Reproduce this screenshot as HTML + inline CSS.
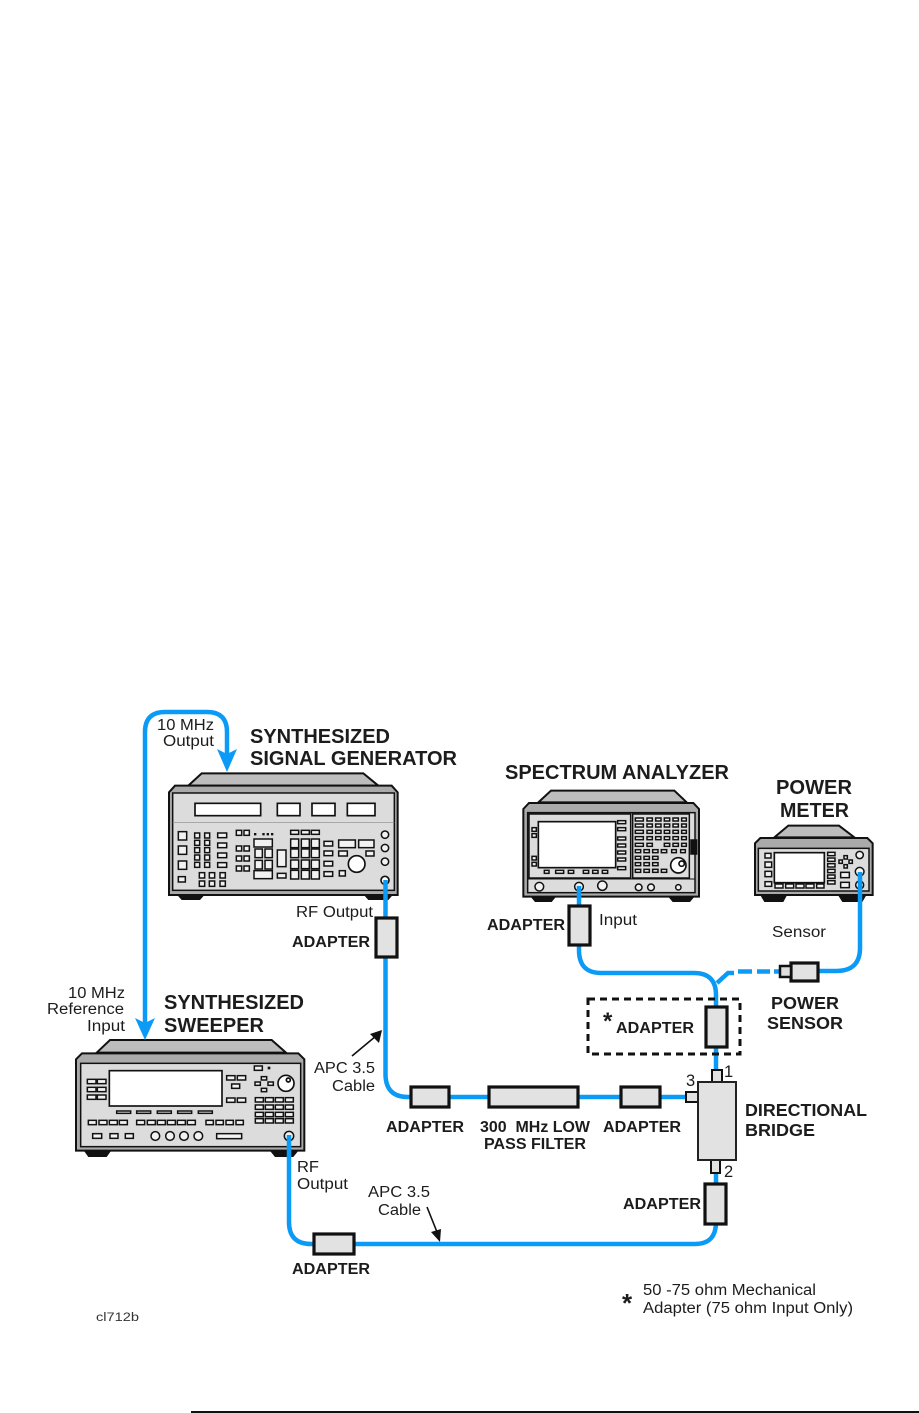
<!DOCTYPE html>
<html><head><meta charset="utf-8"><style>
html,body{margin:0;padding:0;background:#fff}
svg{display:block}
text{font-family:"Liberation Sans",sans-serif;fill:#1c1c1c;font-size:15.5px}
.t{font-weight:bold;font-size:20px}
.a{font-weight:bold;font-size:16px}
.c{fill:none;stroke:#0b9bf7;stroke-width:4.5}
.d{stroke:#111;stroke-width:3.2;fill:#e2e2e2}
.i rect,.i circle{fill:#f2f2f2;stroke:#111;stroke-width:4.5}
.i .w{fill:#fff;stroke-width:5}
.i .g{fill:#dcdcdc}
.o{fill:#dedede;stroke:#111;stroke-width:5}
.k{fill:#111;stroke:none}
.tp{fill:#bdbdbd;stroke:#111;stroke-width:6}
.bd{fill:#aaa;stroke:#111;stroke-width:6}
</style></head><body>
<svg width="919" height="1413" viewBox="0 0 919 1413" xmlns="http://www.w3.org/2000/svg">
<rect width="919" height="1413" fill="#fff"/>

<!-- Signal generator -->
<g class="i" transform="translate(160,765) scale(.33333)">
<path class="k" d="M50 388H135L120 405H65ZM610 388H700L685 405H625Z"/>
<path class="tp" d="M85 62L125 25H610L655 62Z"/>
<path class="bd" d="M27 82L45 62H695L713 82V390H27Z"/>
<rect class="g" x="38" y="84" width="665" height="292"/>
<path d="M38 172H703" stroke="#888" stroke-width="2"/>
<rect class="w" x="105" y="115" width="197" height="37"/>
<rect class="w" x="352" y="115" width="68" height="37"/>
<rect class="w" x="456" y="115" width="69" height="37"/>
<rect class="w" x="562" y="115" width="83" height="37"/>
<rect x="55" y="200" width="25" height="25"/><rect x="55" y="243" width="25" height="25"/><rect x="55" y="288" width="25" height="25"/><rect x="55" y="335" width="21" height="16"/>
<rect x="104" y="204" width="15" height="15"/><rect x="134" y="204" width="15" height="15"/><rect x="104" y="226" width="15" height="15"/><rect x="134" y="226" width="15" height="15"/><rect x="104" y="248" width="15" height="15"/><rect x="134" y="248" width="15" height="15"/><rect x="104" y="270" width="15" height="15"/><rect x="134" y="270" width="15" height="15"/><rect x="104" y="292" width="15" height="15"/><rect x="134" y="292" width="15" height="15"/>
<rect x="173" y="204" width="27" height="14"/><rect x="173" y="234" width="27" height="14"/><rect x="173" y="264" width="27" height="14"/><rect x="173" y="293" width="27" height="14"/>
<rect x="118" y="323" width="16" height="16"/><rect x="148" y="323" width="16" height="16"/><rect x="180" y="323" width="16" height="16"/><rect x="118" y="348" width="16" height="16"/><rect x="148" y="348" width="16" height="16"/><rect x="180" y="348" width="16" height="16"/>
<rect x="229" y="196" width="16" height="15"/><rect x="252" y="196" width="16" height="15"/><rect x="229" y="243" width="16" height="15"/><rect x="252" y="243" width="16" height="15"/><rect x="229" y="273" width="16" height="15"/><rect x="252" y="273" width="16" height="15"/><rect x="229" y="303" width="16" height="15"/><rect x="252" y="303" width="16" height="15"/>
<path class="k" d="M282 204h7v7h-7zM307 204h7v7h-7zM320 204h7v7h-7zM333 204h7v7h-7z"/>
<rect x="282" y="222" width="55" height="24"/><rect x="285" y="252" width="22" height="26"/><rect x="315" y="252" width="22" height="26"/><rect x="285" y="286" width="22" height="26"/><rect x="315" y="286" width="22" height="26"/><rect x="282" y="317" width="55" height="24"/>
<rect x="352" y="255" width="26" height="50"/><rect x="352" y="325" width="26" height="14"/>
<rect x="392" y="196" width="24" height="12"/><rect x="424" y="196" width="24" height="12"/><rect x="454" y="196" width="24" height="12"/>
<rect x="392" y="222" width="24" height="26"/><rect x="424" y="222" width="24" height="26"/><rect x="454" y="222" width="24" height="26"/>
<rect x="392" y="252" width="24" height="26"/><rect x="424" y="252" width="24" height="26"/><rect x="454" y="252" width="24" height="26"/>
<rect x="392" y="285" width="24" height="26"/><rect x="424" y="285" width="24" height="26"/><rect x="454" y="285" width="24" height="26"/>
<rect x="392" y="316" width="24" height="26"/><rect x="424" y="316" width="24" height="26"/><rect x="454" y="316" width="24" height="26"/>
<rect x="492" y="229" width="26" height="14"/><rect x="492" y="258" width="26" height="14"/><rect x="492" y="289" width="26" height="14"/><rect x="492" y="320" width="26" height="14"/>
<rect x="536" y="225" width="50" height="23"/><rect x="596" y="225" width="46" height="23"/><rect x="536" y="258" width="26" height="15"/><rect x="618" y="258" width="24" height="15"/>
<circle class="w" cx="590" cy="297" r="25"/><rect x="538" y="317" width="18" height="16"/>
<circle cx="675" cy="209" r="11"/><circle cx="675" cy="249" r="11"/><circle cx="675" cy="290" r="11"/><circle class="w" cx="675" cy="346" r="12"/>
</g>

<!-- Sweeper -->
<g class="i" transform="translate(70,1030) scale(.33333)">
<path class="k" d="M40 360H125L110 381H55ZM598 360H687L670 381H615Z"/>
<path class="tp" d="M80 68L120 30H605L648 68Z"/>
<path class="bd" d="M18 88L36 70H685L703 88V362H18Z"/>
<rect class="g" x="32" y="100" width="660" height="250"/>
<rect class="w" x="118" y="122" width="338" height="106"/>
<rect x="52" y="148" width="26" height="13"/><rect x="82" y="148" width="26" height="13"/><rect x="52" y="172" width="26" height="13"/><rect x="82" y="172" width="26" height="13"/><rect x="52" y="195" width="26" height="13"/><rect x="82" y="195" width="26" height="13"/>
<rect x="470" y="137" width="25" height="13"/><rect x="502" y="137" width="25" height="13"/><rect x="485" y="162" width="24" height="13"/><rect x="470" y="204" width="25" height="13"/><rect x="502" y="204" width="25" height="13"/>
<rect x="140" y="243" width="42" height="7"/><rect x="200" y="243" width="42" height="7"/><rect x="262" y="243" width="42" height="7"/><rect x="323" y="243" width="42" height="7"/><rect x="385" y="243" width="42" height="7"/>
<rect x="55" y="271" width="24" height="13"/><rect x="87" y="271" width="24" height="13"/><rect x="118" y="271" width="24" height="13"/><rect x="148" y="271" width="24" height="13"/>
<rect x="200" y="271" width="24" height="13"/><rect x="232" y="271" width="24" height="13"/><rect x="262" y="271" width="24" height="13"/><rect x="292" y="271" width="24" height="13"/><rect x="322" y="271" width="24" height="13"/><rect x="352" y="271" width="24" height="13"/>
<rect x="408" y="271" width="22" height="13"/><rect x="438" y="271" width="22" height="13"/><rect x="468" y="271" width="22" height="13"/><rect x="498" y="271" width="22" height="13"/>
<rect x="68" y="311" width="27" height="14"/><rect x="120" y="311" width="24" height="14"/><rect x="166" y="311" width="24" height="14"/>
<circle cx="256" cy="318" r="13"/><circle cx="300" cy="318" r="13"/><circle cx="342" cy="318" r="13"/><circle cx="385" cy="318" r="13"/>
<rect x="440" y="311" width="75" height="15"/>
<rect x="553" y="108" width="24" height="13"/><path class="k" d="M593 110h8v8h-8z"/>
<rect x="574" y="140" width="16" height="10"/><rect x="555" y="156" width="16" height="10"/><rect x="594" y="156" width="16" height="10"/><rect x="574" y="175" width="16" height="10"/>
<circle class="w" cx="648" cy="160" r="24"/><circle class="w" cx="655" cy="150" r="6"/>
<rect x="556" y="203" width="24" height="13"/><rect x="586" y="203" width="24" height="13"/><rect x="616" y="203" width="24" height="13"/><rect x="646" y="203" width="24" height="13"/>
<rect x="556" y="225" width="24" height="13"/><rect x="586" y="225" width="24" height="13"/><rect x="616" y="225" width="24" height="13"/><rect x="646" y="225" width="24" height="13"/>
<rect x="556" y="247" width="24" height="13"/><rect x="586" y="247" width="24" height="13"/><rect x="616" y="247" width="24" height="13"/><rect x="646" y="247" width="24" height="13"/>
<rect x="556" y="266" width="24" height="13"/><rect x="586" y="266" width="24" height="13"/><rect x="616" y="266" width="24" height="13"/><rect x="646" y="266" width="24" height="13"/>
<circle cx="657" cy="318" r="14"/>
</g>

<!-- Spectrum analyzer -->
<g class="i" transform="translate(515,785) scale(.33333)">
<path class="k" d="M45 333H125L110 351H60ZM458 333H540L525 351H473Z"/>
<path class="tp" d="M70 52L108 17H478L515 52Z"/>
<path class="bd" d="M25 72L42 54H535L552 72V335H25Z"/>
<rect class="g" x="38" y="83" width="502" height="240"/>
<rect class="g" x="42" y="87" width="305" height="192"/>
<rect class="g" x="353" y="87" width="170" height="192"/>
<path d="M38 282H540" stroke="#111" stroke-width="3"/>
<rect class="w" x="70" y="110" width="232" height="138"/>
<rect x="51" y="128" width="13" height="11"/><rect x="51" y="146" width="13" height="11"/><rect x="51" y="214" width="13" height="11"/><rect x="51" y="232" width="13" height="11"/>
<rect x="308" y="107" width="24" height="9"/><rect x="308" y="128" width="24" height="9"/><rect x="308" y="156" width="24" height="9"/><rect x="308" y="177" width="24" height="9"/><rect x="308" y="198" width="24" height="9"/><rect x="308" y="219" width="24" height="9"/><rect x="308" y="245" width="24" height="9"/>
<rect x="88" y="256" width="14" height="9"/><rect x="122" y="256" width="24" height="9"/><rect x="160" y="256" width="16" height="9"/><rect x="205" y="256" width="16" height="9"/><rect x="233" y="256" width="16" height="9"/><rect x="262" y="256" width="16" height="9"/>
<rect x="361" y="99" width="24" height="9"/><rect x="396" y="99" width="16" height="9"/><rect x="422" y="99" width="16" height="9"/><rect x="448" y="99" width="16" height="9"/><rect x="474" y="99" width="16" height="9"/><rect x="500" y="99" width="14" height="9"/>
<rect x="361" y="117" width="24" height="9"/><rect x="396" y="117" width="16" height="9"/><rect x="422" y="117" width="16" height="9"/><rect x="448" y="117" width="16" height="9"/><rect x="474" y="117" width="16" height="9"/><rect x="500" y="117" width="14" height="9"/>
<rect x="361" y="136" width="24" height="9"/><rect x="396" y="136" width="16" height="9"/><rect x="422" y="136" width="16" height="9"/><rect x="448" y="136" width="16" height="9"/><rect x="474" y="136" width="16" height="9"/><rect x="500" y="136" width="14" height="9"/>
<rect x="361" y="155" width="24" height="9"/><rect x="396" y="155" width="16" height="9"/><rect x="422" y="155" width="16" height="9"/><rect x="448" y="155" width="16" height="9"/><rect x="474" y="155" width="16" height="9"/><rect x="500" y="155" width="14" height="9"/>
<rect x="361" y="175" width="24" height="9"/><rect x="396" y="175" width="16" height="9"/><rect x="448" y="175" width="16" height="9"/><rect x="474" y="175" width="16" height="9"/><rect x="500" y="175" width="14" height="9"/>
<rect x="361" y="194" width="16" height="9"/><rect x="387" y="194" width="16" height="9"/><rect x="413" y="194" width="16" height="9"/><rect x="439" y="194" width="16" height="9"/><rect x="470" y="194" width="14" height="9"/><rect x="497" y="194" width="14" height="9"/>
<rect x="361" y="214" width="16" height="9"/><rect x="387" y="214" width="16" height="9"/><rect x="413" y="214" width="16" height="9"/>
<rect x="361" y="233" width="16" height="9"/><rect x="387" y="233" width="16" height="9"/><rect x="413" y="233" width="16" height="9"/>
<rect x="361" y="253" width="16" height="9"/><rect x="387" y="253" width="16" height="9"/><rect x="413" y="253" width="16" height="9"/><rect x="439" y="253" width="16" height="9"/>
<circle class="w" cx="490" cy="241" r="23"/><circle class="w" cx="500" cy="236" r="8"/>
<rect class="k" x="528" y="165" width="17" height="42" style="fill:#111"/>
<circle cx="73" cy="305" r="13"/><circle cx="192" cy="305" r="13"/><circle cx="262" cy="302" r="14"/><circle cx="371" cy="307" r="10"/><circle cx="408" cy="307" r="10"/><circle cx="490" cy="307" r="8"/>
</g>

<!-- Power meter -->
<g class="i" transform="translate(745,820) scale(.33333)">
<path class="k" d="M45 224H127L115 246H58ZM278 224H365L352 246H292Z"/>
<path class="tp" d="M88 52L130 17H282L328 52Z"/>
<path class="bd" d="M30 70L46 54H367L383 70V225H30Z"/>
<rect class="g" x="40" y="85" width="332" height="128"/>
<rect class="w" x="88" y="98" width="150" height="90"/>
<rect x="60" y="100" width="18" height="14"/><rect x="60" y="126" width="20" height="16"/><rect x="60" y="154" width="20" height="16"/><rect x="60" y="185" width="20" height="14"/>
<rect x="90" y="192" width="24" height="12"/><rect x="122" y="192" width="24" height="12"/><rect x="153" y="192" width="24" height="12"/><rect x="183" y="192" width="24" height="12"/><rect x="215" y="192" width="22" height="12"/>
<rect x="248" y="97" width="22" height="10"/><rect x="248" y="114" width="22" height="10"/><rect x="248" y="131" width="22" height="10"/><rect x="248" y="148" width="22" height="10"/><rect x="248" y="165" width="22" height="10"/><rect x="248" y="182" width="22" height="10"/>
<rect x="297" y="107" width="10" height="10"/><rect x="282" y="120" width="10" height="10"/><rect x="312" y="120" width="10" height="10"/><rect x="297" y="134" width="10" height="10"/>
<rect x="287" y="157" width="26" height="16"/><rect x="287" y="187" width="26" height="16"/>
<circle cx="344" cy="105" r="11"/><circle cx="344" cy="155" r="13"/><circle cx="344" cy="195" r="12"/>
</g>

<!-- Cables -->
<path class="c" d="M145 1025V732Q145 712 165 712H207Q227 712 227 732V760"/>
<path fill="#0b9bf7" d="M217 749L227 754L237 749L227 772ZM135 1018L145 1023L155 1018L145 1040Z"/>
<path class="c" d="M385.500 880V1074Q385.500 1097 408 1097H697"/>
<path class="c" d="M289 1135V1222Q289 1244 311 1244H695Q716 1244 716 1222V1160"/>
<path class="c" d="M579 886V950Q579 973 601 973H694Q716 973 716 995V1082"/>
<path class="c" d="M860 872V948Q860 971 836 971H815"/>
<path class="c" d="M717 983L728 973H734M738 971.500H752M757 971.500H770M774 971.500H782"/>

<!-- Sensor -->
<rect class="d" x="791" y="963" width="27" height="18"/>
<rect x="780" y="966" width="11" height="11" fill="#ddd" stroke="#111" stroke-width="2.500"/>

<!-- Adapters & bridge -->
<rect class="d" x="376" y="918" width="21" height="39"/>
<rect class="d" x="569" y="906" width="21" height="39"/>
<rect class="d" x="411" y="1087" width="38" height="20"/>
<rect class="d" x="489" y="1087" width="89" height="20"/>
<rect class="d" x="621" y="1087" width="39" height="20"/>
<rect class="d" x="314" y="1234" width="40" height="20"/>
<rect class="d" x="706" y="1007" width="21" height="40"/>
<rect class="d" x="705" y="1184" width="21" height="40"/>
<rect x="712" y="1070" width="10" height="12" fill="#e2e2e2" stroke="#111" stroke-width="2"/>
<rect x="686" y="1092" width="12" height="10" fill="#e2e2e2" stroke="#111" stroke-width="2"/>
<rect x="711" y="1160" width="9" height="13" fill="#e2e2e2" stroke="#111" stroke-width="2"/>
<rect x="698" y="1082" width="38" height="78" fill="#e2e2e2" stroke="#222" stroke-width="2"/>
<rect x="588" y="999" width="152" height="55" fill="none" stroke="#111" stroke-width="3" stroke-dasharray="7 5"/>

<!-- Pointer arrows -->
<path d="M352 1056L376 1036M427 1207L437 1232" stroke="#111" stroke-width="1.600" fill="none"/>
<path fill="#111" d="M382 1030L379 1043L370 1034ZM440 1242L431 1232L441 1229Z"/>

<!-- Labels -->
<text class="t" x="250" y="743" textLength="140" lengthAdjust="spacingAndGlyphs">SYNTHESIZED</text>
<text class="t" x="250" y="765" textLength="207" lengthAdjust="spacingAndGlyphs">SIGNAL GENERATOR</text>
<text class="t" x="505" y="779" textLength="224" lengthAdjust="spacingAndGlyphs">SPECTRUM ANALYZER</text>
<text class="t" x="776" y="794" textLength="76" lengthAdjust="spacingAndGlyphs">POWER</text>
<text class="t" x="780" y="817" textLength="69" lengthAdjust="spacingAndGlyphs">METER</text>
<text class="t" x="164" y="1009" textLength="140" lengthAdjust="spacingAndGlyphs">SYNTHESIZED</text>
<text class="t" x="164" y="1032" textLength="100" lengthAdjust="spacingAndGlyphs">SWEEPER</text>
<text x="157" y="730" textLength="57" lengthAdjust="spacingAndGlyphs">10 MHz</text>
<text x="163" y="746" textLength="51" lengthAdjust="spacingAndGlyphs">Output</text>
<text x="68" y="998" textLength="57" lengthAdjust="spacingAndGlyphs">10 MHz</text>
<text x="47" y="1014" textLength="77" lengthAdjust="spacingAndGlyphs">Reference</text>
<text x="87" y="1031" textLength="38" lengthAdjust="spacingAndGlyphs">Input</text>
<text x="296" y="917" textLength="77" lengthAdjust="spacingAndGlyphs">RF Output</text>
<text x="599" y="925" textLength="38" lengthAdjust="spacingAndGlyphs">Input</text>
<text x="772" y="937" textLength="54" lengthAdjust="spacingAndGlyphs">Sensor</text>
<text x="314" y="1073" textLength="61" lengthAdjust="spacingAndGlyphs">APC 3.5</text>
<text x="332" y="1091" textLength="43" lengthAdjust="spacingAndGlyphs">Cable</text>
<text x="297" y="1172" textLength="22" lengthAdjust="spacingAndGlyphs">RF</text>
<text x="297" y="1189" textLength="51" lengthAdjust="spacingAndGlyphs">Output</text>
<text x="368" y="1197" textLength="62" lengthAdjust="spacingAndGlyphs">APC 3.5</text>
<text x="378" y="1215" textLength="43" lengthAdjust="spacingAndGlyphs">Cable</text>
<text class="a" x="292" y="947" textLength="78" lengthAdjust="spacingAndGlyphs">ADAPTER</text>
<text class="a" x="487" y="930" textLength="78" lengthAdjust="spacingAndGlyphs">ADAPTER</text>
<text class="a" x="616" y="1033" textLength="78" lengthAdjust="spacingAndGlyphs">ADAPTER</text>
<text class="a" x="386" y="1132" textLength="78" lengthAdjust="spacingAndGlyphs">ADAPTER</text>
<text class="a" x="603" y="1132" textLength="78" lengthAdjust="spacingAndGlyphs">ADAPTER</text>
<text class="a" x="623" y="1209" textLength="78" lengthAdjust="spacingAndGlyphs">ADAPTER</text>
<text class="a" x="292" y="1274" textLength="78" lengthAdjust="spacingAndGlyphs">ADAPTER</text>
<text class="a" x="480" y="1132" textLength="110" lengthAdjust="spacingAndGlyphs">300&#160; MHz LOW</text>
<text class="a" x="484" y="1149" textLength="102" lengthAdjust="spacingAndGlyphs">PASS FILTER</text>
<text class="a" x="771" y="1009" textLength="68" lengthAdjust="spacingAndGlyphs" style="font-size:17.500px">POWER</text>
<text class="a" x="767" y="1029" textLength="76" lengthAdjust="spacingAndGlyphs" style="font-size:17.500px">SENSOR</text>
<text class="a" x="745" y="1116" textLength="122" lengthAdjust="spacingAndGlyphs" style="font-size:17.500px">DIRECTIONAL</text>
<text class="a" x="745" y="1136" textLength="70" lengthAdjust="spacingAndGlyphs" style="font-size:17.500px">BRIDGE</text>
<text x="724" y="1077" style="font-size:16.500px">1</text>
<text x="686" y="1086" style="font-size:16.500px">3</text>
<text x="724" y="1177" style="font-size:16.500px">2</text>
<text x="603" y="1029" style="font-size:24px;font-weight:bold">*</text>
<text x="622" y="1312" style="font-size:26px;font-weight:bold">*</text>
<text x="643" y="1295" textLength="173" lengthAdjust="spacingAndGlyphs">50 -75 ohm Mechanical</text>
<text x="643" y="1313" textLength="210" lengthAdjust="spacingAndGlyphs">Adapter (75 ohm Input Only)</text>
<text x="96" y="1321" textLength="43" lengthAdjust="spacingAndGlyphs" style="font-size:11.500px;fill:#333">cl712b</text>

<rect x="191" y="1411" width="728" height="2" fill="#111"/>
</svg>
</body></html>
